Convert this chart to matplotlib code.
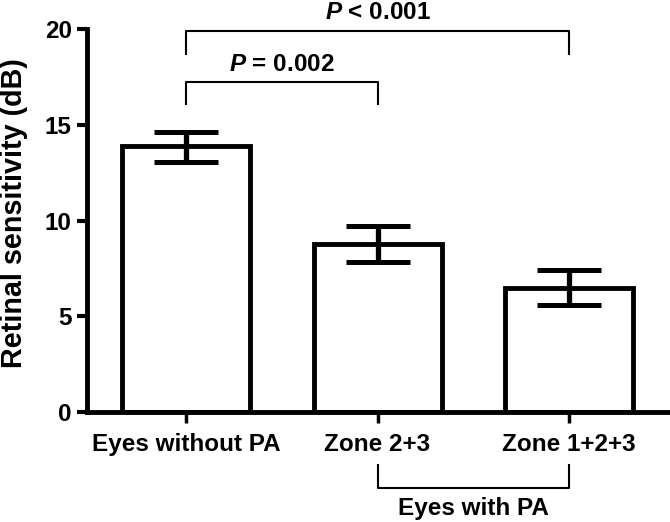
import matplotlib
matplotlib.use("Agg")
import matplotlib.pyplot as plt

groups = ["Eyes without PA", "Zone 2+3", "Zone 1+2+3"]
means = [13.9, 8.8, 6.5]
err_low = [13.05, 7.85, 5.6]
err_high = [14.65, 9.7, 7.4]

plt.rcParams["font.family"] = ["Liberation Sans", "DejaVu Sans"]
plt.rcParams["font.weight"] = "bold"
plt.rcParams["mathtext.fontset"] = "custom"
plt.rcParams["mathtext.bfit"] = "Liberation Sans:italic:bold"
plt.rcParams["mathtext.bf"] = "Liberation Sans:bold"
plt.rcParams["mathtext.rm"] = "Liberation Sans:bold"

fig = plt.figure(figsize=(6.7, 5.22), dpi=100)
ax = fig.add_axes([0.130, 0.211, 0.867, 0.733])

x = list(range(len(groups)))
ax.bar(x, means, width=0.67, color="white", edgecolor="black", linewidth=3.5, zorder=2)
yerr = [[m - lo for m, lo in zip(means, err_low)], [hi - m for m, hi in zip(means, err_high)]]
ax.errorbar(x, means, yerr=yerr, fmt="none", ecolor="black", elinewidth=3.8,
            capsize=23, capthick=3.6, zorder=3)

ax.set_xlim(-0.52, 2.52)
ax.set_ylim(0, 20)
ax.set_yticks([0, 5, 10, 15, 20])
ax.set_xticks(x)
ax.set_xticklabels(groups, fontsize=17.5, fontweight="bold")
ax.tick_params(axis="y", labelsize=17.5, width=3, length=7, pad=4)
ax.tick_params(axis="x", width=2.5, length=8, pad=7)
for lab in ax.get_yticklabels():
    lab.set_fontweight("bold")
fig.text(14 / 670, 0.592, "Retinal sensitivity (dB)", rotation=90, ha="center",
         va="center", fontsize=20.7, fontweight="bold")
for s in ["top", "right"]:
    ax.spines[s].set_visible(False)
ax.spines["left"].set_linewidth(3.5)
ax.spines["bottom"].set_linewidth(3.5)

# significance brackets
def bracket(x0, x1, y, drop, label, ty):
    ax.plot([x0, x0, x1, x1], [y - drop, y, y, y - drop], color="black", lw=1.5,
            clip_on=False, zorder=4)
    ax.text((x0 + x1) / 2, ty, label, ha="center", va="baseline", fontsize=17.5,
            fontweight="bold", clip_on=False)

bracket(0, 1, 17.23, 1.15, r"$\bfit{P}$ = 0.002", 17.8)
bracket(0, 2, 19.9, 1.2, r"$\bfit{P}$ < 0.001", 20.55)

# group bracket under the x axis
ax.plot([1, 1, 2, 2], [-2.8, -4.0, -4.0, -2.8], color="black", lw=1.5, clip_on=False)
ax.text(1.5, -4.45, "Eyes with PA", ha="center", va="top", fontsize=17.5,
        fontweight="bold", clip_on=False)

fig.savefig("out.png", dpi=100)
